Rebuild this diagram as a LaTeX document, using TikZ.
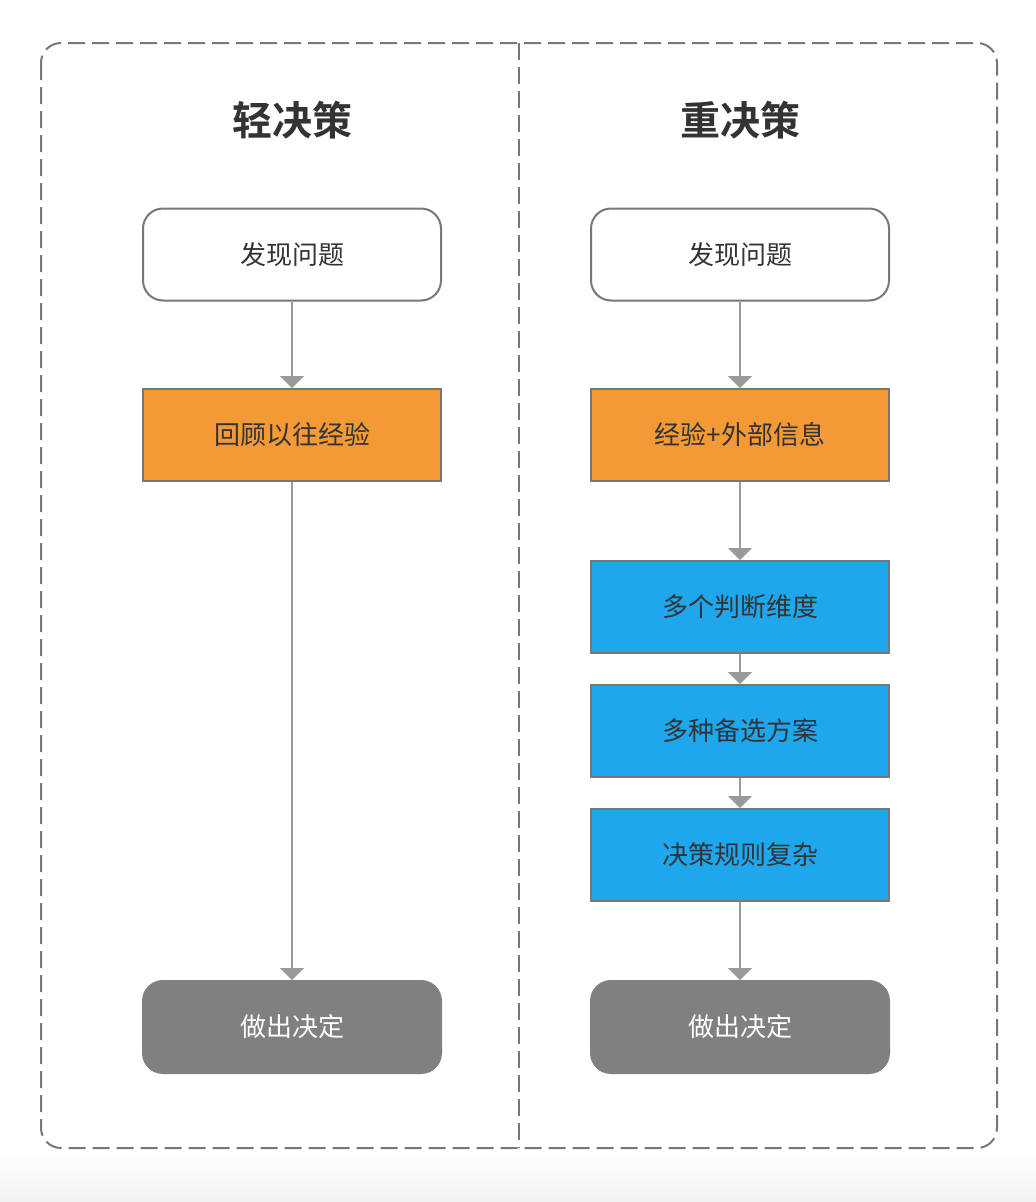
\documentclass[tikz,border=0pt]{standalone}
\usepackage{fontspec}
\newfontfamily\cjk{Noto Sans CJK SC}
\newfontfamily\cjkbold{Noto Sans CJK SC Bold}
\usetikzlibrary{arrows.meta}

\definecolor{frameline}{HTML}{777777}
\definecolor{arrline}{HTML}{999999}
\definecolor{txt}{HTML}{333333}
\definecolor{orangebox}{HTML}{F39A36}
\definecolor{bluebox}{HTML}{1EA7EC}
\definecolor{graybox}{HTML}{808080}

\tikzset{
	box/.style = {draw = frameline, line width = 2pt, minimum width = 298pt, minimum height = 92pt,
		text = txt, font = \cjk\fontsize{26}{30}\selectfont},
	startbox/.style = {box, fill = white, rounded corners = 20pt},
	orangestep/.style = {box, fill = orangebox},
	bluestep/.style = {box, fill = bluebox},
	endbox/.style = {box, draw = graybox, fill = graybox, rounded corners = 20pt, text = white},
	title/.style = {text = txt, font = \cjkbold\fontsize{40}{46}\selectfont},
	arr/.style = {draw = arrline, line width = 2pt, -{Triangle[width = 24pt, length = 12pt]}},
	frame/.style = {draw = frameline, line width = 2pt, dash pattern = on 17pt off 7pt}
}

\begin{document}
\begin{tikzpicture}[x = 1pt, y = -1pt]
	\useasboundingbox (0,0) rectangle (1036,1202);
	\shade[top color = white, bottom color = black!5] (0,1150) rectangle (1036,1202);
	% frame
	\draw[frame, rounded corners = 20pt] (41,43) rectangle (997,1148);
	\draw[frame] (519,43) -- (519,1148);
	% left column
	\node[title] (lt) at (292,120) {轻决策};
	\node[startbox] (l1) at (292,254.5) {发现问题};
	\node[orangestep] (l2) at (292,435) {回顾以往经验};
	\node[endbox] (l3) at (292,1027) {做出决定};
	\draw[arr] (l1) -- (l2);
	\draw[arr] (l2) -- (l3);
	% right column
	\node[title] (rt) at (740,120) {重决策};
	\node[startbox] (r1) at (740,254.5) {发现问题};
	\node[orangestep] (r2) at (740,435) {经验+外部信息};
	\node[bluestep] (r3) at (740,607) {多个判断维度};
	\node[bluestep] (r4) at (740,731) {多种备选方案};
	\node[bluestep] (r5) at (740,855) {决策规则复杂};
	\node[endbox] (r6) at (740,1027) {做出决定};
	\foreach \a/\b in {r1/r2, r2/r3, r3/r4, r4/r5, r5/r6}
		\draw[arr] (\a) -- (\b);
\end{tikzpicture}
\end{document}
